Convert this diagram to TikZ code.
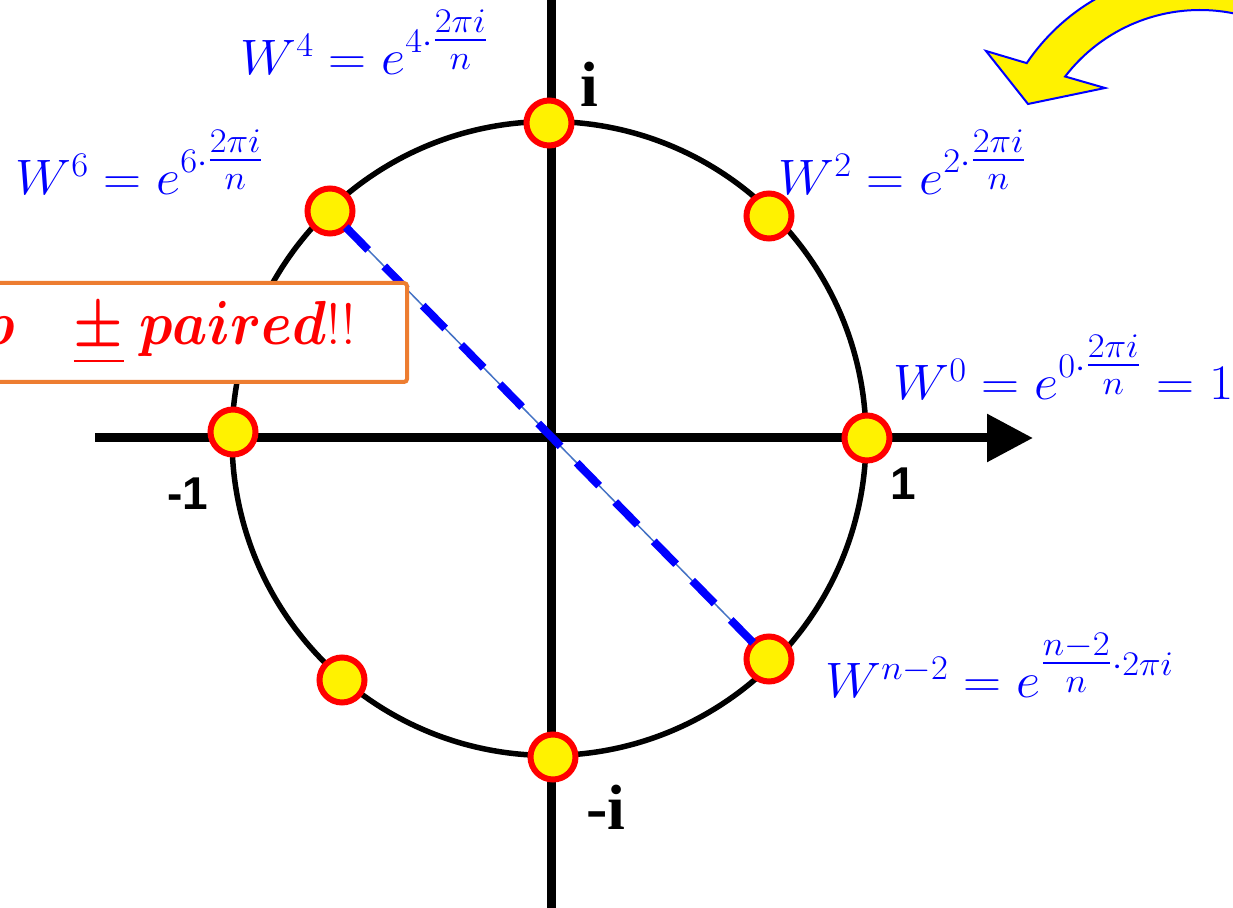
\documentclass[tikz,border=0pt]{standalone}
\usepackage{amsmath}
\usepackage{graphicx}
\usepackage{fontspec}
\newfontfamily\serifbf{Liberation Serif}[BoldFont={Liberation Serif Bold}]
\newfontfamily\sansbf{Liberation Sans}[BoldFont={Liberation Sans Bold}]
\usetikzlibrary{arrows.meta,calc}
\definecolor{boxorange}{HTML}{ED7D31}
\definecolor{thinblue}{HTML}{4472C4}
\newcommand{\pairtxt}{\scalebox{1.12}[1.25]{$\boldsymbol{p}\mkern19mu\underline{\boldsymbol{\pm}}\;\boldsymbol{paired}$}{\fontsize{29}{32}\selectfont!!}}
\newcommand{\expfrac}[2]{\genfrac{}{}{}{1}{#1}{#2}}
\newcommand{\lblm}[1]{\scalebox{1.06}[1]{$#1$}}
\begin{document}
\begin{tikzpicture}[x=0.5pt,y=0.5pt,
  dot/.style={circle,fill=yellow,draw=red,line width=3pt,inner sep=0pt,minimum size=22.5pt,outer sep=0pt},
  axis/.style={line width=4.5pt,black},
  lbl/.style={text=blue,font=\fontsize{25}{29}\selectfont,inner sep=0pt},
  boxstyle/.style={draw=boxorange,line width=2pt,fill=white,inner sep=0pt,rounded corners=1.5pt},
  tick/.style={inner sep=0pt,font=\sansbf\bfseries\fontsize{23}{27}\selectfont},
  imag/.style={inner sep=0pt,font=\serifbf\bfseries\fontsize{32}{36}\selectfont},
  boxtext/.style={inner sep=0pt,text=red,font=\fontsize{24.88}{30}\selectfont},
  ]
\useasboundingbox (0,0) rectangle (1233,-908);
\clip (0,0) rectangle (1233,-908);

% yellow curved arrow
\coordinate (ac) at (1200,-180);
\draw[fill=yellow,draw=blue,line width=1pt,line join=miter]
  ($(ac)+(30:209)$) arc[start angle=30,end angle=146,radius=209]
  -- (986,-51) -- (1028,-104) -- (1105,-88)
  -- ($(ac)+(142.5:170)$) arc[start angle=142.5,end angle=30,radius=170] -- cycle;

% unit circle
\coordinate (c) at (549,-438.5);
\draw[line width=2.75pt] (c) circle[radius=317];

% axes
\coordinate (xl) at (95,-438);
\coordinate (xr) at (1033,-438);
\draw[axis,-{Triangle[length=23pt,width=23pt]}] (xl) -- (xr);
\coordinate (yt) at (551,10);
\coordinate (yb) at (551,-918);
\draw[axis] (yt) -- (yb);

% roots
\node[dot] (p0) at (867,-438) {};
\node[dot] (p2) at (769,-216) {};
\node[dot] (p4) at (549,-123) {};
\node[dot] (p6) at (330,-211) {};
\node[dot] (p8) at (233,-432) {};
\node[dot] (p10) at (342,-680) {};
\node[dot] (p12) at (553,-757) {};
\node[dot] (p14) at (769,-659) {};

% dashed pairing line
\draw[thinblue,line width=0.75pt] (p6) -- (p14);
\draw[blue,line width=4pt,dash pattern=on 16pt off 11.5pt] (p6) -- (p14);

% box
\node[boxstyle,anchor=north east,minimum width=230pt,minimum height=49.5pt] (box) at (409,-281) {};
\node[boxtext,anchor=east] (boxtxt) at (356,-333) {\pairtxt};

% axis labels
\node[imag,anchor=base west] (li) at (580,-107) {i};
\node[imag,anchor=base west] (lmi) at (586,-830) {-i};
\node[tick,anchor=base west] (l1) at (890,-500) {1};
\node[tick,anchor=base west] (lm1) at (167,-510) {-1};

% formulas
\node[lbl,anchor=base west] (w4) at (240,-75) {\lblm{W^{4}=e^{4\cdot\expfrac{2\pi i}{n}}}};
\node[lbl,anchor=base west] (w6) at (15,-195) {\lblm{W^{6}=e^{6\cdot\expfrac{2\pi i}{n}}}};
\node[lbl,anchor=base west] (w2) at (778,-195) {\lblm{W^{2}=e^{2\cdot\expfrac{2\pi i}{n}}}};
\node[lbl,anchor=base west] (w0) at (893,-400) {\lblm{W^{0}=e^{0\cdot\expfrac{2\pi i}{n}}=1}};
\node[lbl,anchor=base west] (wn) at (825,-698) {\lblm{W^{n-2}=e^{\expfrac{n-2}{n}\cdot 2\pi i}}};
\end{tikzpicture}
\end{document}
